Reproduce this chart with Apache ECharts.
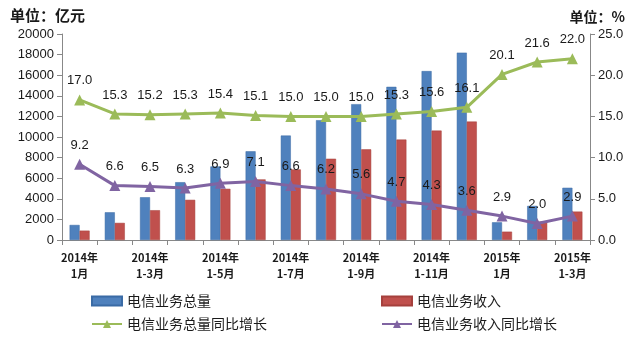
<!DOCTYPE html>
<html><head><meta charset="utf-8">
<script src="https://cdn.jsdelivr.net/npm/echarts@6/dist/echarts.min.js"></script>
<style>html,body{margin:0;padding:0;background:#fff}#c{width:639px;height:339px}</style>
</head><body><div id="c"></div>
<script>
var categories = ['2014年\n1月','2014年\n1-2月','2014年\n1-3月','2014年\n1-4月','2014年\n1-5月','2014年\n1-6月','2014年\n1-7月','2014年\n1-8月','2014年\n1-9月','2014年\n1-10月','2014年\n1-11月','2014年\n1-12月','2015年\n1月','2015年\n1-2月','2015年\n1-3月'];
var totalVolume = [1460, 2690, 4150, 5610, 7140, 8610, 10140, 11630, 13190, 14870, 16400, 18190, 1720, 3310, 5070];
var revenue = [910, 1660, 2890, 3900, 4970, 5880, 6850, 7890, 8800, 9750, 10620, 11500, 810, 1780, 2760];
var volumeGrowth = [17.0, 15.3, 15.2, 15.3, 15.4, 15.1, 15.0, 15.0, 15.0, 15.3, 15.6, 16.1, 20.1, 21.6, 22.0];
var revenueGrowth = [9.2, 6.6, 6.5, 6.3, 6.9, 7.1, 6.6, 6.2, 5.6, 4.7, 4.3, 3.6, 2.9, 2.0, 2.9];
var names = ['电信业务总量','电信业务收入','电信业务总量同比增长','电信业务收入同比增长'];

var chart = echarts.init(document.getElementById('c'));
var txt = '#1a1a1a';
var axisLine = {show:true, lineStyle:{color:'#888'}};
function legendAt(name, left, top, isBar){
  var d = {name:name};
  if (isBar) d.icon = 'rect';
  return {data:[d], left:left, top:top, itemWidth:30, itemHeight: isBar?9:10, itemGap:4,
    textStyle:{fontSize:14, color:txt, fontFamily:'Noto Sans CJK SC'}};
}
chart.setOption({
  animation:false,
  textStyle:{fontFamily:'Liberation Sans'},
  title:[
    {text:'单位：亿元', left:5, top:3, textStyle:{fontSize:15, fontWeight:'bold', color:txt, fontFamily:'Noto Sans CJK SC'}},
    {text:'单位：%', right:9, top:5, textStyle:{fontSize:14, fontWeight:'bold', color:txt, fontFamily:'Noto Sans CJK SC'}}
  ],
  legend:[
    legendAt(names[0], 86, 289, true),
    legendAt(names[1], 376, 289, true),
    legendAt(names[2], 86, 312, false),
    legendAt(names[3], 376, 312, false)
  ],
  grid:{left:62, right:49, top:34, bottom:99},
  xAxis:{type:'category', data:categories, axisLine:axisLine,
    axisTick:{show:true, alignWithLabel:false, interval:0, length:5, lineStyle:{color:'#888'}},
    axisLabel:{interval:1, fontSize:11, fontWeight:'bold', color:txt, lineHeight:16, margin:10, fontFamily:'Noto Sans CJK SC'}},
  yAxis:[
    {type:'value', min:0, max:20000, interval:2000, axisLine:axisLine, axisTick:{show:true, length:5, lineStyle:{color:'#888'}}, splitLine:{show:false},
      axisLabel:{fontSize:13, color:txt, margin:8, formatter:function(v){return String(v);}}},
    {type:'value', min:0, max:25, interval:5, axisLine:axisLine, axisTick:{show:true, length:5, lineStyle:{color:'#888'}}, splitLine:{show:false},
      axisLabel:{fontSize:13, color:txt, margin:8, formatter:function(v){return v.toFixed(1);}}}
  ],
  series:[
    {name:names[0], type:'bar', data:totalVolume, barWidth:10, barGap:'0%', itemStyle:{color:'#4F81BD', borderColor:'#3A6BA5', borderWidth:0.5}},
    {name:names[1], type:'bar', data:revenue, barWidth:10, itemStyle:{color:'#C0504D', borderColor:'#A5403D', borderWidth:0.5}},
    {name:names[2], type:'line', yAxisIndex:1, data:volumeGrowth, symbol:'triangle', symbolSize:11,
      lineStyle:{color:'#9BBB59', width:3}, itemStyle:{color:'#9BBB59'},
      label:{show:true, position:'top', distance:7, fontSize:13, color:txt, formatter:function(p){return p.value.toFixed(1);}}},
    {name:names[3], type:'line', yAxisIndex:1, data:revenueGrowth, symbol:'triangle', symbolSize:11,
      lineStyle:{color:'#8064A2', width:3}, itemStyle:{color:'#8064A2'},
      label:{show:true, position:'top', distance:7, fontSize:13, color:txt, formatter:function(p){return p.value.toFixed(1);}}}
  ]
});
</script></body></html>
